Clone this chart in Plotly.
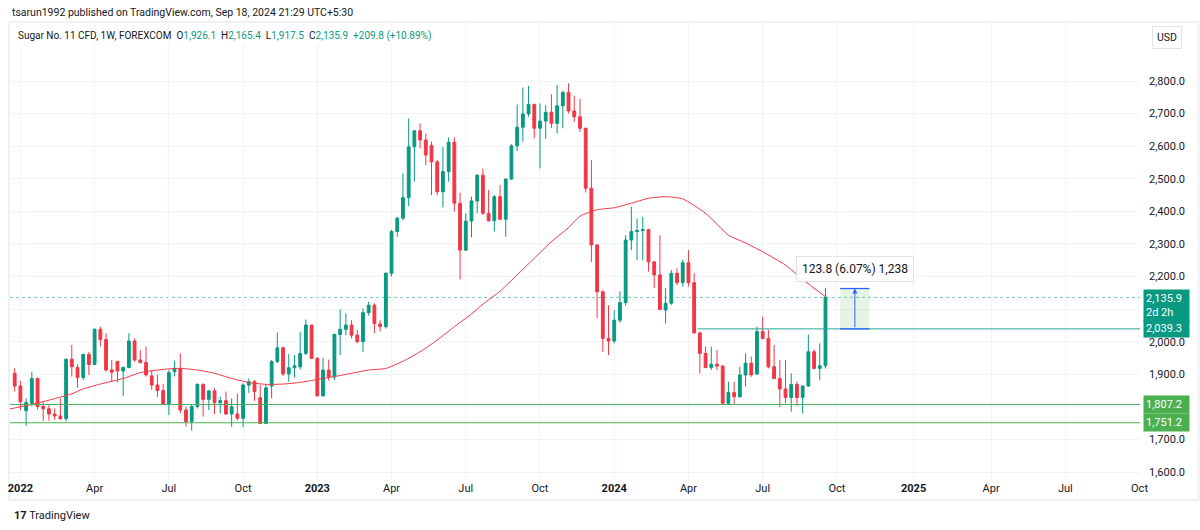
import pandas as pd
import plotly.graph_objects as go

# ---------------- data (weekly bars, Sugar No. 11 CFD) ----------------
first_week = "2021-12-27"
n_bars = 143

opens = [1903,1864,1788,1811,1887,1801,1794,1778,1772,1764,
         1946,1921,1890,1961,1930,2038,2007,1913,1939,1910,
         1921,2002,1944,1936,1895,1867,1850,1807,1908,1918,
         1790,1755,1801,1869,1823,1849,1813,1819,1778,1778,
         1765,1867,1877,1828,1749,1864,1939,1981,1901,1920,
         1923,1964,2051,1949,1834,1913,1892,2022,2038,2051,
         2020,2000,2089,2112,2054,2046,2210,2338,2379,2442,
         2598,2647,2619,2602,2552,2460,2522,2612,2425,2281,
         2370,2432,2511,2394,2371,2445,2376,2499,2601,2658,
         2699,2728,2655,2677,2704,2670,2724,2765,2708,2690,
         2655,2471,2297,2153,2010,2002,2066,2120,2312,2338,
         2341,2344,2245,2205,2097,2118,2210,2181,2242,2181,
         2027,1964,1921,1931,1925,1811,1844,1831,1898,1934,
         1901,2031,2010,1923,1887,1855,1829,1869,1829,1864,
         1969,1918,1926.1]

highs = [1918,1880,1826,1908,1890,1816,1806,1795,1826,1948,
         1990,1930,1963,1969,2041,2046,2026,1944,1942,1923,
         2026,2010,1974,1985,1913,1898,1870,1913,1942,1964,
         1801,1806,1872,1872,1852,1857,1831,1847,1826,1841,
         1872,1887,1882,1867,1870,1944,2028,1985,1962,1959,
         2030,2068,2051,1952,1950,1945,2025,2099,2087,2066,
         2036,2102,2123,2118,2066,2213,2343,2382,2517,2685,
         2650,2670,2639,2614,2558,2598,2627,2627,2457,2394,
         2445,2514,2532,2465,2450,2481,2501,2606,2728,2780,
         2785,2731,2731,2726,2759,2788,2769,2793,2755,2745,
         2657,2557,2299,2158,2112,2097,2155,2327,2414,2378,
         2383,2346,2246,2327,2165,2220,2225,2251,2281,2210,
         2031,1985,1985,1974,1928,1877,1877,1923,1964,1954,
         2046,2077,2036,1990,1944,1944,1903,1877,1865,2022,
         1976,1995,2165.4]

lows = [1847,1790,1742,1801,1792,1757,1757,1760,1760,1757,
        1893,1859,1882,1898,1928,1985,1908,1877,1875,1833,
        1918,1939,1933,1893,1852,1831,1806,1775,1893,1780,
        1739,1727,1795,1770,1790,1778,1780,1775,1739,1758,
        1737,1843,1819,1747,1747,1826,1934,1895,1877,1890,
        1915,1959,1946,1831,1831,1880,1882,1959,2020,2010,
        1995,1969,2080,2026,2031,2040,2200,2322,2373,2416,
        2491,2593,2542,2450,2450,2412,2491,2399,2191,2278,
        2320,2394,2389,2368,2338,2373,2322,2496,2585,2614,
        2690,2624,2532,2622,2655,2639,2655,2701,2675,2644,
        2458,2245,2072,1969,1959,1995,2058,2110,2281,2250,
        2250,2215,2164,2097,2056,2113,2174,2169,2169,2025,
        1903,1918,1913,1913,1806,1806,1806,1828,1862,1892,
        1898,2007,1918,1885,1800,1811,1785,1803,1780,1862,
        1915,1882,1917.5]

closes = [1864,1816,1813,1887,1801,1794,1778,1772,1764,1946,
          1923,1890,1961,1930,2038,2007,1913,1906,1910,1921,
          2002,1944,1936,1898,1867,1850,1807,1905,1918,1790,
          1755,1801,1869,1823,1849,1813,1819,1778,1800,1765,
          1867,1877,1847,1749,1858,1939,1981,1901,1920,1926,
          1964,2051,1949,1834,1913,1892,2022,2038,2051,2020,
          2000,2089,2112,2056,2046,2210,2338,2379,2442,2598,
          2647,2619,2573,2552,2460,2522,2612,2425,2281,2370,
          2432,2511,2394,2371,2445,2376,2499,2601,2658,2699,
          2728,2655,2677,2704,2670,2724,2765,2708,2690,2655,
          2471,2297,2153,2010,2002,2066,2120,2312,2338,2341,
          2344,2245,2205,2099,2118,2210,2181,2242,2181,2027,
          1964,1921,1931,1925,1811,1844,1831,1898,1934,1898,
          2031,2010,1923,1887,1855,1829,1869,1829,1864,1969,
          1918,1926.1,2135.9]

# moving average (week offset from first bar, value)
ma_weeks = [-2, 1, 5, 8, 10, 12, 15, 19, 22, 26, 29, 32, 35, 38, 41, 44, 47, 50,
            53, 56, 59, 62, 65, 68, 71, 74, 77, 80, 82, 85, 88, 91, 94, 97, 99,
            102, 105, 108, 111, 114, 117, 121, 125, 128, 131, 135, 138, 142]
ma_values = [1790, 1800, 1816, 1830, 1840, 1855, 1870, 1887, 1905, 1915, 1918,
             1913, 1903, 1887, 1875, 1869, 1870, 1875, 1884, 1893, 1903, 1913,
             1918, 1940, 1969, 2005, 2046, 2085, 2115, 2155, 2205, 2256, 2307,
             2350, 2385, 2405, 2411, 2425, 2440, 2445, 2438, 2394, 2327, 2303,
             2276, 2235, 2191, 2138]

# horizontal levels
support_levels = [1807.2, 1751.2]
level_2039 = 2039.3
level_2039_start = "2024-04-12"
last_price = 2135.9

# measure tool
measure_low = 2039.3
measure_high = 2163.1
measure_x0, measure_x1, measure_mid = "2024-10-04", "2024-11-09", "2024-10-22"
measure_label = "123.8 (6.07%) 1,238"
measure_label_y = 2223

tick_dates = ["2022-01-03", "2022-04-04", "2022-07-04", "2022-10-03",
              "2023-01-02", "2023-04-03", "2023-07-03", "2023-10-02",
              "2024-01-01", "2024-04-01", "2024-07-01", "2024-09-30",
              "2025-01-02", "2025-04-07", "2025-07-07", "2025-10-06"]
tick_labels = ["<b>2022</b>", "Apr", "Jul", "Oct", "<b>2023</b>", "Apr", "Jul", "Oct",
               "<b>2024</b>", "Apr", "Jul", "Oct", "<b>2025</b>", "Apr", "Jul", "Oct"]
price_ticks = list(range(1600, 2900, 100))
hidden_price_ticks = [1800, 2100]   # covered by the price tags in the original

# ---------------- figure ----------------
GREEN = "#089981"
RED = "#F23645"
LGREEN = "#4CAF50"
TXT = "#131722"
GRID = "#f0f3fa"
FONT = "Roboto"

base = pd.Timestamp(first_week)
dates = pd.date_range(first_week, periods=n_bars, freq="7D")
ma_dates = [base + pd.Timedelta(days=7 * w) for w in ma_weeks]

fig = go.Figure()
fig.add_trace(go.Candlestick(
    x=dates, open=opens, high=highs, low=lows, close=closes,
    increasing=dict(line=dict(color=GREEN, width=1), fillcolor=GREEN),
    decreasing=dict(line=dict(color=RED, width=1), fillcolor=RED),
    whiskerwidth=0, showlegend=False, hoverinfo="skip"))
fig.add_trace(go.Scatter(
    x=ma_dates, y=ma_values, mode="lines",
    line=dict(color=RED, width=1, shape="spline", smoothing=0.6),
    showlegend=False, hoverinfo="skip"))

shapes = []
for lv in support_levels:
    shapes.append(dict(type="line", xref="paper", x0=0, x1=1, yref="y", y0=lv, y1=lv,
                       line=dict(color=LGREEN, width=1), layer="above"))
shapes.append(dict(type="line", xref="x", x0=level_2039_start, x1="2025-10-07",
                   yref="y", y0=level_2039, y1=level_2039,
                   line=dict(color="#22AB94", width=1), layer="above"))
shapes.append(dict(type="line", xref="paper", x0=0, x1=1, yref="y", y0=last_price, y1=last_price,
                   line=dict(color="rgba(8,153,129,0.55)", width=1, dash="dot"), layer="below"))
# measure rectangle
shapes.append(dict(type="rect", xref="x", x0=measure_x0, x1=measure_x1, yref="y",
                   y0=measure_low, y1=measure_high, fillcolor="rgba(76,175,80,0.14)",
                   line=dict(width=0), layer="above"))
for yv in (measure_low, measure_high):
    shapes.append(dict(type="line", xref="x", x0=measure_x0, x1=measure_x1, yref="y",
                       y0=yv, y1=yv, line=dict(color="#2962FF", width=1.3), layer="above"))
# outer frame
shapes.append(dict(type="rect", xref="paper", yref="paper", x0=-0.0009, x1=1.052,
                   y0=-0.0437, y1=1.0, line=dict(color="#e0e3eb", width=1), layer="below"))

annotations = []
annotations.append(dict(x=measure_mid, y=measure_high, ax=measure_mid, ay=measure_low,
                        xref="x", yref="y", axref="x", ayref="y", text="", showarrow=True,
                        arrowhead=2, arrowsize=1, arrowwidth=1, arrowcolor="#2962FF"))
annotations.append(dict(x=measure_mid, y=measure_label_y, xref="x", yref="y",
                        text=measure_label, showarrow=False, bgcolor="white",
                        bordercolor="#e0e3eb", borderwidth=1, borderpad=5,
                        font=dict(family=FONT, size=12, color=TXT)))

# price scale labels
def price_tag(y, text, color, yshift=0, anchor="middle"):
    return dict(xref="paper", x=1, xanchor="left", xshift=3, yref="y", y=y,
                yanchor=anchor, yshift=yshift, text=text, showarrow=False,
                bgcolor=color, font=dict(family=FONT, size=11, color="white"),
                align="left", borderpad=2, width=41)

annotations.append(price_tag(last_price, "2,135.9<br>2d 2h", GREEN, yshift=8, anchor="top"))
annotations.append(price_tag(level_2039, f"{level_2039:,.1f}", GREEN))
for lv in support_levels:
    annotations.append(price_tag(lv, f"{lv:,.1f}", LGREEN))

# header texts
annotations.append(dict(xref="paper", yref="paper", x=0, y=1.0218, xanchor="left", yanchor="middle",
                        text="tsarun1992 published on TradingView.com, Sep 18, 2024 21:29 UTC+5:30",
                        showarrow=False, font=dict(family=FONT, size=10.5, color=TXT)))
g = lambda s: f"<span style='color:{GREEN}'>{s}</span>"
sp = "&nbsp;&nbsp;"
legend_txt = ("Sugar No. 11 CFD, 1W, FOREXCOM" + sp + "O" + g("1,926.1") + sp + "H" + g("2,165.4") +
              sp + "L" + g("1,917.5") + sp + "C" + g("2,135.9") + sp + g("+209.8 (+10.89%)"))
annotations.append(dict(xref="paper", yref="paper", x=0.0053, y=0.9694, xanchor="left", yanchor="middle",
                        text=legend_txt, showarrow=False, bgcolor="white",
                        font=dict(family=FONT, size=10, color=TXT)))
annotations.append(dict(xref="paper", yref="paper", x=1.0239, y=0.9662, xanchor="center", yanchor="middle",
                        text="USD", showarrow=False, bordercolor="#e0e3eb", borderwidth=1,
                        borderpad=4, bgcolor="white", font=dict(family=FONT, size=10.5, color=TXT)))
annotations.append(dict(xref="paper", yref="paper", x=0.002, y=-0.0786, xanchor="left", yanchor="middle",
                        text="<b>17</b> TradingView", showarrow=False,
                        font=dict(family=FONT, size=11, color=TXT)))

fig.update_layout(
    width=1200, height=530,
    margin=dict(l=8, r=60, t=22, b=50),
    paper_bgcolor="white", plot_bgcolor="white",
    font=dict(family=FONT, size=11, color=TXT),
    shapes=shapes, annotations=annotations,
    xaxis=dict(type="date", range=["2021-12-21 06:00", "2025-10-06 14:00"],
               rangeslider=dict(visible=False), tickvals=tick_dates, ticktext=tick_labels,
               showgrid=True, gridcolor=GRID, gridwidth=1, zeroline=False, showline=False,
               ticks="", tickfont=dict(family=FONT, size=11, color=TXT), fixedrange=True),
    yaxis=dict(side="right", range=[1575.5, 2981.1], tickvals=price_ticks,
               ticktext=["" if v in hidden_price_ticks else f"{v:,.1f}" for v in price_ticks],
               showgrid=True, gridcolor=GRID,
               zeroline=False, showline=False, ticks="", ticklabelstandoff=8,
               tickfont=dict(family=FONT, size=11, color=TXT), fixedrange=True),
)

fig.write_html("out.html")
